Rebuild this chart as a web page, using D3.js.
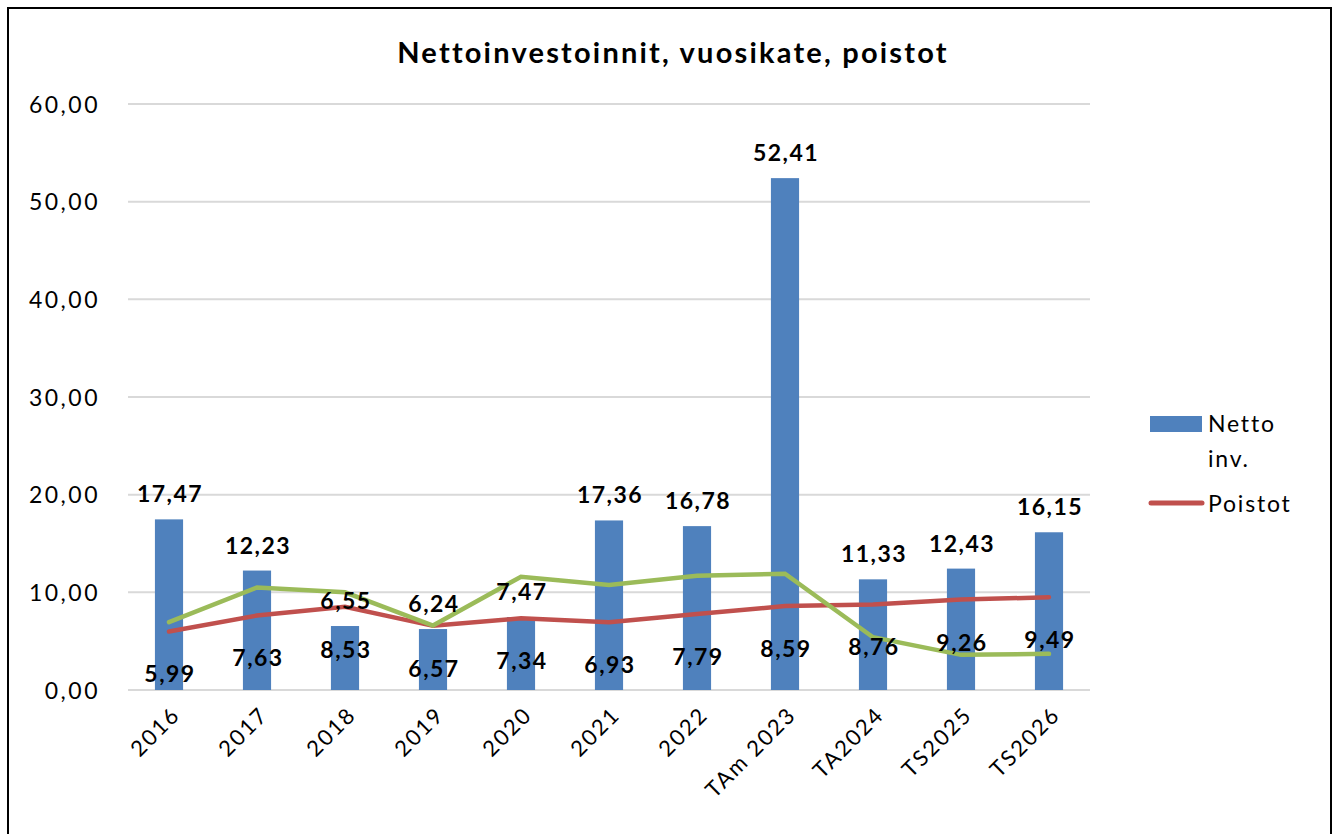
<!DOCTYPE html>
<html>
<head>
<meta charset="utf-8">
<script src="https://cdn.jsdelivr.net/npm/d3@7"></script>
<style>
  body { margin: 0; background: #fff; }
  svg text { font-family: Lato, "DejaVu Sans", sans-serif; }
</style>
</head>
<body>
<div id="chart"></div>
<script>
// data
var categories = ["2016", "2017", "2018", "2019", "2020", "2021", "2022", "TAm 2023", "TA2024", "TS2025", "TS2026"];
var nettoInv = [17.47, 12.23, 6.55, 6.24, 7.47, 17.36, 16.78, 52.41, 11.33, 12.43, 16.15];
var poistot = [5.99, 7.63, 8.53, 6.57, 7.34, 6.93, 7.79, 8.59, 8.76, 9.26, 9.49];
var vuosikate = [6.95, 10.5, 10.0, 6.6, 11.6, 10.75, 11.7, 11.9, 5.4, 3.6, 3.7];
var yTicks = [0, 10, 20, 30, 40, 50, 60];

var W = 1339, H = 834;
var plot = { left: 125, right: 1093, top: 104, bottom: 690 };

var fmt = function(v){ return d3.format(".2f")(v).replace(".", ","); };

var svg = d3.select("#chart").append("svg")
  .attr("width", W).attr("height", H);

// kehys
svg.append("rect")
  .attr("x", 8).attr("y", 8)
  .attr("width", 1323).attr("height", H)
  .attr("fill", "none").attr("stroke", "#000").attr("stroke-width", 2);

svg.append("text")
  .attr("x", 673).attr("y", 63)
  .attr("text-anchor", "middle")
  .style("font-size", "29px").style("font-weight", "bold")
  .style("letter-spacing", "2.2px")
  .text("Nettoinvestoinnit, vuosikate, poistot");

var x = d3.scaleBand().domain(categories).range([plot.left, plot.right]).paddingInner(0.68).paddingOuter(0.34);
var y = d3.scaleLinear().domain([0, 60]).range([plot.bottom, plot.top]);

// gridlines
svg.append("g").selectAll("line").data(yTicks).enter().append("line")
  .attr("x1", 128).attr("x2", 1090)
  .attr("y1", function(d){ return y(d); }).attr("y2", function(d){ return y(d); })
  .style("stroke", "#d9d9d9").style("stroke-width", 2);

// y axis labels
var yAxis = d3.axisLeft(y).tickValues(yTicks).tickSize(0).tickPadding(0).tickFormat(fmt);
var gy = svg.append("g").attr("transform", "translate(100,0)").call(yAxis);
gy.select(".domain").remove();
gy.selectAll("text").style("font-size", "23px").style("fill", "#000")
  .style("letter-spacing", "2.5px").attr("dy", "0.35em");

// bars
svg.append("g").selectAll("rect").data(nettoInv).enter().append("rect")
  .attr("x", function(d, i){ return x(categories[i]); })
  .attr("y", function(d){ return y(d); })
  .attr("width", x.bandwidth())
  .attr("height", function(d){ return y(0) - y(d); })
  .attr("fill", "#4f81bd");

var cx = function(i){ return x(categories[i]) + x.bandwidth() / 2; };

var line = d3.line()
  .x(function(d, i){ return cx(i); })
  .y(function(d){ return y(d); });

svg.append("path").datum(poistot)
  .attr("d", line).attr("fill", "none")
  .attr("stroke", "#c0504d").attr("stroke-width", 4.5).attr("stroke-linecap", "round");

svg.append("path").datum(vuosikate)
  .attr("d", line).attr("fill", "none")
  .attr("stroke", "#9bbb59").attr("stroke-width", 4.5).attr("stroke-linecap", "round");

// bar labels
svg.append("g").selectAll("text").data(nettoInv).enter().append("text")
  .attr("x", function(d, i){ return cx(i) + 1; })
  .attr("y", function(d){ return y(d) - 17; })
  .attr("text-anchor", "middle")
  .style("font-size", "23px").style("font-weight", "bold").style("letter-spacing", "1.5px")
  .text(fmt);

// poistot labels
svg.append("g").selectAll("text").data(poistot).enter().append("text")
  .attr("x", function(d, i){ return cx(i) + 1; })
  .attr("y", function(d){ return y(d) + 51; })
  .attr("text-anchor", "middle")
  .style("font-size", "23px").style("font-weight", "bold").style("letter-spacing", "1.5px")
  .text(fmt);

// x axis labels
var xAxis = d3.axisBottom(x).tickSize(0).tickPadding(0);
var gx = svg.append("g").attr("transform", "translate(0," + (plot.bottom + 20) + ")").call(xAxis);
gx.select(".domain").remove();
gx.selectAll("text")
  .style("font-size", "22px").style("fill", "#000").style("letter-spacing", "2px")
  .attr("text-anchor", "end")
  .attr("dy", "0.6em").attr("dx", "0.2em")
  .attr("transform", "rotate(-45)");

// legend
var lg = svg.append("g").style("font-size", "23px").style("letter-spacing", "1.8px");
lg.append("rect").attr("x", 1150).attr("y", 416).attr("width", 52).attr("height", 16).attr("fill", "#4f81bd");
lg.append("text").attr("x", 1208).attr("y", 432).text("Netto");
lg.append("text").attr("x", 1208).attr("y", 467).text("inv.");
lg.append("line").attr("x1", 1151).attr("x2", 1202).attr("y1", 503).attr("y2", 503)
  .attr("stroke", "#c0504d").attr("stroke-width", 5).attr("stroke-linecap", "round");
lg.append("text").attr("x", 1208).attr("y", 512).text("Poistot");
</script>
</body>
</html>
